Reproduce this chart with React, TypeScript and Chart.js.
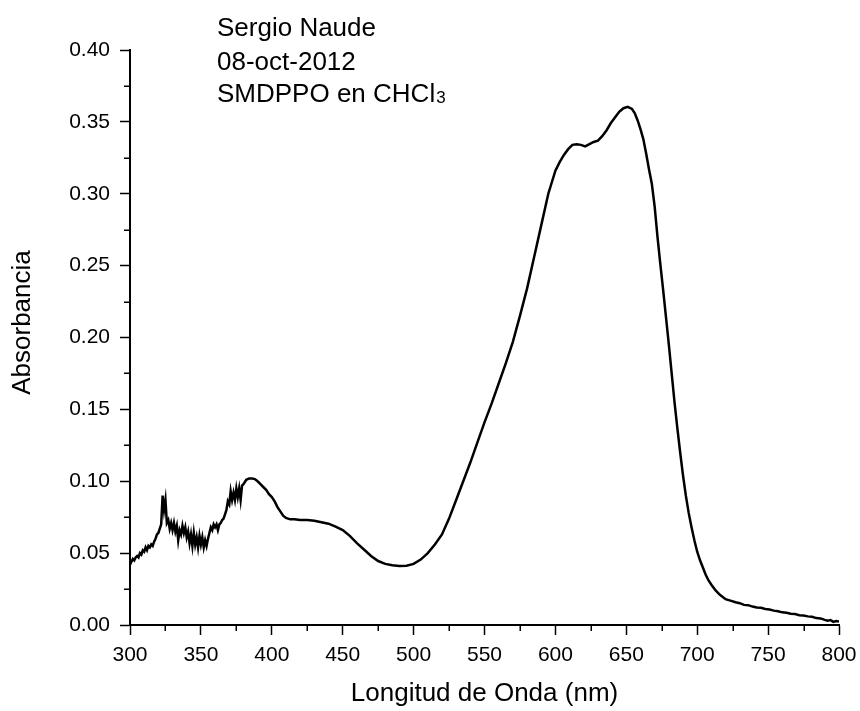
import React, { useEffect, useRef } from "react";
import { Chart, registerables } from "chart.js";

Chart.register(...registerables);

// Wavelength (nm)
const wavelengths: number[] = [
  300, 301, 302, 303, 304, 305, 306, 307, 308, 309,
  310, 311, 312, 313, 314, 315, 316, 317, 318, 319,
  320, 321, 322, 323, 324, 325, 326, 327, 328, 329,
  330, 331, 332, 333, 334, 335, 336, 337, 338, 339,
  340, 341, 342, 343, 344, 345, 346, 347, 348, 349,
  350, 351, 352, 353, 354, 355, 356, 357, 358, 359,
  360, 361, 362, 363, 364, 365, 366, 367, 368, 369,
  370, 371, 372, 373, 374, 375, 376, 377, 378, 379,
  380, 382, 384, 386, 388, 390, 392, 394, 396, 398,
  400, 402, 404, 406, 408, 410, 413, 416, 420, 425,
  430, 435, 440, 445, 450, 455, 460, 465, 470, 475,
  480, 485, 490, 495, 500, 505, 510, 515, 520, 525,
  530, 535, 540, 545, 550, 555, 560, 565, 570, 575,
  580, 585, 590, 595, 600, 603, 606, 609, 612, 615,
  618, 621, 624, 627, 630, 633, 636, 639, 642, 645,
  648, 651, 654, 656, 658, 660, 662, 664, 666, 668,
  670, 672, 674, 676, 678, 680, 682, 684, 686, 688,
  690, 692, 694, 696, 698, 700, 702, 704, 706, 708,
  710, 713, 716, 720, 724, 727, 730, 733, 736, 739,
  742, 745, 748, 751, 754, 757, 760, 763, 766, 769,
  772, 775, 778, 781, 784, 787, 790, 792, 794, 796,
  798, 800,
];

// Absorbance
const absorbance: number[] = [
  0.042, 0.044, 0.046, 0.045, 0.047, 0.048, 0.047, 0.05, 0.049, 0.052,
  0.051, 0.054, 0.052, 0.055, 0.054, 0.056, 0.055, 0.058, 0.06, 0.063,
  0.064, 0.067, 0.07, 0.09, 0.08, 0.087, 0.071, 0.073, 0.067, 0.071,
  0.066, 0.071, 0.065, 0.069, 0.059, 0.066, 0.063, 0.069, 0.064, 0.068,
  0.061, 0.065, 0.057, 0.063, 0.055, 0.064, 0.056, 0.061, 0.054, 0.062,
  0.056, 0.061, 0.054, 0.059, 0.055, 0.06, 0.064, 0.068, 0.066, 0.07,
  0.068, 0.07, 0.066, 0.07, 0.071, 0.073, 0.074, 0.077, 0.08, 0.086,
  0.084, 0.093, 0.087, 0.092, 0.087, 0.095, 0.089, 0.095, 0.087, 0.097,
  0.098, 0.101, 0.102, 0.102, 0.1015, 0.1, 0.098, 0.096, 0.094, 0.091,
  0.089, 0.086, 0.082, 0.079, 0.076, 0.0745, 0.0735, 0.0735, 0.073, 0.073,
  0.0725, 0.0715, 0.0705, 0.0685, 0.066, 0.062, 0.057, 0.0525, 0.048, 0.0445,
  0.0425, 0.0415, 0.041, 0.0412, 0.0425, 0.0455, 0.05, 0.056, 0.063, 0.074,
  0.087, 0.1, 0.113, 0.127, 0.141, 0.154, 0.168, 0.182, 0.197, 0.215,
  0.234, 0.256, 0.278, 0.3, 0.316, 0.322, 0.327, 0.331, 0.334, 0.3345,
  0.334, 0.333, 0.3345, 0.336, 0.337, 0.34, 0.344, 0.349, 0.353, 0.357,
  0.3595, 0.3605, 0.359, 0.356, 0.351, 0.345, 0.338, 0.328, 0.317, 0.307,
  0.291, 0.27, 0.251, 0.233, 0.214, 0.195, 0.175, 0.155, 0.137, 0.12,
  0.104, 0.09, 0.078, 0.068, 0.059, 0.051, 0.045, 0.04, 0.035, 0.031,
  0.028, 0.024, 0.021, 0.018, 0.0168, 0.0158, 0.0152, 0.014, 0.0138, 0.0128,
  0.0122, 0.012, 0.0112, 0.0108, 0.01, 0.0096, 0.0088, 0.0085, 0.0078, 0.0076,
  0.0068, 0.0066, 0.006, 0.0057, 0.0048, 0.0046, 0.0036, 0.003, 0.0034, 0.0022,
  0.0028, 0.0024,
];

// Minor tick values
const xMinorTicks: number[] = [325, 375, 425, 475, 525, 575, 625, 675, 725, 775];
const yMinorTicks: number[] = [0.025, 0.075, 0.125, 0.175, 0.225, 0.275, 0.325, 0.375];

// Annotation text
const noteLines: string[] = ["Sergio Naude", "08-oct-2012", "SMDPPO en CHCl"];
const noteSubscript = "3";

const xTitle = "Longitud de Onda (nm)";
const yTitle = "Absorbancia";

const FONT = "'Liberation Sans', Arial, Helvetica, sans-serif";

const extrasPlugin = {
  id: "extras",
  afterDraw(chart: any) {
    const { ctx, chartArea, scales } = chart;
    const x = scales.x;
    const y = scales.y;
    ctx.save();
    ctx.strokeStyle = "#000";
    ctx.lineWidth = 1.5;
    for (const v of xMinorTicks) {
      const px = Math.round(x.getPixelForValue(v)) + 0.25;
      ctx.beginPath();
      ctx.moveTo(px, chartArea.bottom);
      ctx.lineTo(px, chartArea.bottom + 6);
      ctx.stroke();
    }
    for (const v of yMinorTicks) {
      const py = Math.round(y.getPixelForValue(v)) + 0.25;
      ctx.beginPath();
      ctx.moveTo(chartArea.left, py);
      ctx.lineTo(chartArea.left - 6, py);
      ctx.stroke();
    }
    // y axis title
    ctx.fillStyle = "#000";
    ctx.font = `26px ${FONT}`;
    ctx.textAlign = "center";
    ctx.textBaseline = "middle";
    ctx.save();
    ctx.translate(23, (chartArea.top + chartArea.bottom) / 2 - 15);
    ctx.rotate(-Math.PI / 2);
    ctx.fillText(yTitle, 0, 0);
    ctx.restore();
    // annotation text
    ctx.textAlign = "left";
    ctx.textBaseline = "alphabetic";
    const tx = chartArea.left + 87;
    const baselines = [chartArea.top - 14, chartArea.top + 20, chartArea.top + 52];
    noteLines.forEach((t, i) => {
      ctx.font = `26px ${FONT}`;
      ctx.fillText(t, tx, baselines[i]);
      if (i === noteLines.length - 1) {
        const w = ctx.measureText(t).width;
        ctx.font = `17px ${FONT}`;
        ctx.fillText(noteSubscript, tx + w + 1, baselines[i] + 1);
      }
    });
    ctx.restore();
  },
};

export default function App() {
  const canvasRef = useRef<HTMLCanvasElement | null>(null);

  useEffect(() => {
    if (!canvasRef.current) return;
    const points = wavelengths.map((w, i) => ({ x: w, y: absorbance[i] }));
    const chart = new Chart(canvasRef.current, {
      type: "line",
      data: {
        datasets: [
          {
            data: points,
            borderColor: "#000",
            borderWidth: 2.5,
            pointRadius: 0,
            tension: 0,
            fill: false,
          },
        ],
      },
      options: {
        animation: false,
        responsive: false,
        maintainAspectRatio: false,
        layout: { padding: { top: 50, right: 21, left: 0, bottom: 0 } },
        plugins: {
          legend: { display: false },
          tooltip: { enabled: false },
        },
        scales: {
          x: {
            type: "linear",
            min: 300,
            max: 800,
            ticks: {
              stepSize: 50,
              maxRotation: 0,
              autoSkip: false,
              padding: 8,
              color: "#000",
              font: { family: FONT, size: 21 },
            },
            grid: {
              display: true,
              drawOnChartArea: false,
              drawTicks: true,
              tickLength: 10,
              tickWidth: 1.5,
              tickColor: "#000",
            },
            border: { display: true, color: "#000", width: 2 },
            title: {
              display: true,
              text: xTitle,
              color: "#000",
              font: { family: FONT, size: 26 },
              padding: { top: 0, bottom: 2 },
            },
            afterFit: (s: any) => {
              s.height = 86;
              s.paddingLeft = 0;
              s.paddingRight = 0;
            },
          },
          y: {
            type: "linear",
            min: 0,
            max: 0.4,
            ticks: {
              stepSize: 0.05,
              padding: 10,
              color: "#000",
              font: { family: FONT, size: 21 },
              callback: (v: any) => Number(v).toFixed(2),
            },
            grid: {
              display: true,
              drawOnChartArea: false,
              drawTicks: true,
              tickLength: 10,
              tickWidth: 1.5,
              tickColor: "#000",
            },
            border: { display: true, color: "#000", width: 2 },
            title: { display: false },
            afterFit: (s: any) => {
              s.width = 130;
              s.paddingTop = 0;
              s.paddingBottom = 0;
            },
          },
        },
      },
      plugins: [extrasPlugin],
    });
    return () => chart.destroy();
  }, []);

  return (
    <div style={{ position: "fixed", left: 0, top: 0, width: 860, height: 711, background: "#fff" }}>
      <canvas ref={canvasRef} width={860} height={711} style={{ width: 860, height: 711 }} />
    </div>
  );
}
